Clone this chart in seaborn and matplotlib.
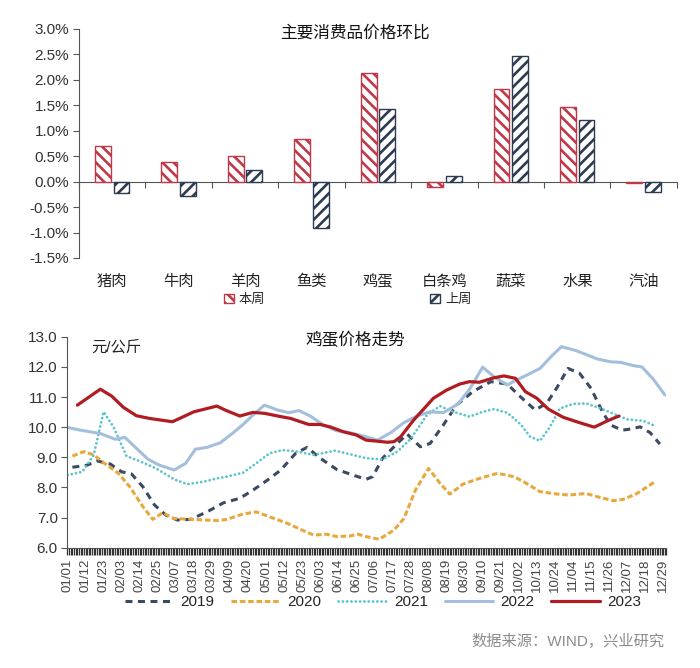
import numpy as np
import pandas as pd
import matplotlib
matplotlib.use('Agg')
import matplotlib.pyplot as plt
import seaborn as sns
from matplotlib.ticker import MultipleLocator, FixedLocator, FuncFormatter
from matplotlib import font_manager

sns.set_style('ticks')
plt.rcParams['font.family'] = ['Liberation Sans', 'Noto Sans CJK SC']
plt.rcParams['hatch.linewidth'] = 1.9
plt.rcParams['lines.scale_dashes'] = False

# ---------------- data: top chart ----------------
categories = ['猪肉', '牛肉', '羊肉', '鱼类', '鸡蛋', '白条鸡', '蔬菜', '水果', '汽油']
this_week = [0.70, 0.39, 0.51, 0.83, 2.14, -0.10, 1.82, 1.47, -0.02]
last_week = [-0.22, -0.28, 0.23, -0.92, 1.43, 0.12, 2.47, 1.21, -0.21]
week_labels = ['本周', '上周']

# ---------------- data: bottom chart (day of year, price) ----------------
x_labels = ['01/01', '01/12', '01/23', '02/03', '02/14', '02/25', '03/07', '03/18', '03/29',
            '04/09', '04/20', '05/01', '05/12', '05/23', '06/03', '06/14', '06/25', '07/06',
            '07/17', '07/28', '08/08', '08/19', '08/30', '09/10', '09/21', '10/02', '10/13',
            '10/24', '11/04', '11/15', '11/26', '12/07', '12/18', '12/29']

days_2019 = [3, 12, 18, 26, 33, 39, 46, 53, 60, 67, 75, 85, 95, 105, 113, 122, 130, 139, 146, 154,
             164, 174, 182, 186, 192, 201, 207, 215, 221, 229, 237, 247, 258, 268, 276, 285, 292,
             298, 305, 312, 319, 326, 331, 338, 342, 349, 355, 361]
vals_2019 = [8.67, 8.74, 8.88, 8.78, 8.52, 8.45, 8.02, 7.42, 7.08, 6.92, 6.94, 7.19, 7.49, 7.64,
             7.91, 8.25, 8.58, 9.13, 9.33, 8.97, 8.60, 8.41, 8.27, 8.36, 8.97, 9.46, 9.77, 9.35,
             9.46, 10.07, 10.73, 11.18, 11.51, 11.43, 11.01, 10.57, 10.79, 11.29, 11.95, 11.79,
             11.29, 10.51, 10.07, 9.90, 9.93, 10.01, 9.82, 9.44]

days_2020 = [3, 10, 16, 22, 31, 38, 46, 52, 58, 65, 77, 91, 97, 107, 115, 123, 134, 142, 150, 158,
             164, 172, 177, 182, 190, 199, 205, 212, 220, 227, 233, 241, 251, 262, 272, 278, 288,
             300, 306, 316, 325, 333, 339, 347, 358]
vals_2020 = [9.04, 9.19, 9.08, 8.82, 8.47, 8.02, 7.36, 6.94, 7.16, 6.97, 6.94, 6.90, 6.94, 7.12,
             7.19, 7.03, 6.81, 6.61, 6.42, 6.45, 6.37, 6.39, 6.45, 6.37, 6.28, 6.59, 6.97, 7.91,
             8.63, 8.14, 7.78, 8.11, 8.30, 8.47, 8.36, 8.19, 7.86, 7.77, 7.75, 7.80, 7.66, 7.56,
             7.61, 7.80, 8.19]

days_2021 = [0, 9, 16, 22, 28, 36, 45, 54, 65, 73, 83, 91, 97, 107, 115, 123, 131, 140, 150, 163,
             174, 182, 192, 201, 209, 219, 227, 235, 245, 253, 260, 268, 276, 282, 288, 294, 300,
             308, 316, 325, 333, 341, 351, 358]
vals_2021 = [8.41, 8.52, 9.08, 10.51, 10.01, 9.04, 8.85, 8.63, 8.27, 8.11, 8.19, 8.30, 8.36, 8.49,
             8.80, 9.13, 9.24, 9.19, 9.08, 9.22, 9.08, 8.97, 8.93, 9.19, 9.60, 10.40, 10.70, 10.51,
             10.35, 10.51, 10.60, 10.48, 10.10, 9.68, 9.55, 10.01, 10.62, 10.77, 10.79, 10.62,
             10.44, 10.26, 10.21, 10.04]

days_2022 = [0, 8, 20, 29, 35, 42, 49, 56, 65, 72, 78, 85, 93, 100, 107, 113, 120, 128, 135, 141,
             148, 156, 164, 172, 180, 189, 197, 205, 213, 221, 229, 238, 245, 253, 260, 268, 273,
             280, 288, 295, 301, 310, 323, 331, 337, 345, 350, 357, 364]
vals_2022 = [9.99, 9.90, 9.79, 9.60, 9.66, 9.30, 8.94, 8.74, 8.58, 8.80, 9.27, 9.33, 9.48, 9.77,
             10.09, 10.40, 10.73, 10.57, 10.48, 10.55, 10.37, 10.07, 9.88, 9.82, 9.71, 9.57, 9.82,
             10.15, 10.37, 10.51, 10.48, 10.77, 11.26, 11.99, 11.67, 11.40, 11.55, 11.73, 11.95,
             12.36, 12.67, 12.54, 12.26, 12.17, 12.15, 12.04, 12.00, 11.59, 11.07]

days_2023 = [6, 20, 27, 34, 42, 50, 64, 77, 91, 96, 105, 113, 120, 130, 136, 147, 154, 160, 168,
             176, 182, 186, 195, 199, 203, 211, 223, 231, 239, 245, 251, 260, 266, 273, 279, 286,
             293, 302, 312, 321, 329, 336]
vals_2023 = [10.73, 11.26, 11.03, 10.66, 10.38, 10.29, 10.18, 10.51, 10.70, 10.57, 10.37, 10.49,
             10.46, 10.35, 10.29, 10.09, 10.09, 10.01, 9.85, 9.74, 9.57, 9.55, 9.50, 9.52, 9.68,
             10.24, 10.96, 11.23, 11.43, 11.51, 11.49, 11.64, 11.70, 11.62, 11.18, 10.96, 10.60,
             10.33, 10.15, 10.00, 10.21, 10.37]

RED = '#c03848'
NAVY = '#2c3b50'
AXC = '#555555'
TXT = '#333333'

installed = {f.name for f in font_manager.fontManager.ttflist}
NARROW = ['Liberation Sans Narrow'] if 'Liberation Sans Narrow' in installed else []

fig = plt.figure(figsize=(7, 6.68), dpi=100)

# ================= top bar chart =================
ax1 = fig.add_axes([0.1129, 0.6138, 0.854, 0.3428])
df = pd.DataFrame({'cat': categories * 2,
                   'week': [week_labels[0]] * len(categories) + [week_labels[1]] * len(categories),
                   'val': this_week + last_week})
sns.barplot(data=df, x='cat', y='val', hue='week', hue_order=week_labels,
            palette={week_labels[0]: RED, week_labels[1]: NAVY}, fill=False,
            width=0.56, gap=0.15, linewidth=1.0, ax=ax1, legend=False, errorbar=None)
hatches = ['\\' * 3, '/' * 3]
for cont, h, c in zip(ax1.containers, hatches, [RED, NAVY]):
    for p in cont.patches:
        p.set_hatch(h)
        p.set_facecolor('white')
        p.set_edgecolor(c)

ax1.set_xlim(-0.5, 8.5)
ax1.set_ylim(-1.5, 3.0)
ax1.set_yticks(np.arange(-1.5, 3.01, 0.5))
ax1.yaxis.set_major_formatter(FuncFormatter(lambda v, p: f'{v:.1f}%'))
ax1.set_xlabel('')
ax1.set_ylabel('')
for s in ['top', 'right', 'bottom']:
    ax1.spines[s].set_visible(False)
ax1.spines['left'].set_color(AXC)
ax1.tick_params(axis='y', direction='out', length=4, color=AXC, labelsize=11, labelcolor=TXT, pad=3)
ax1.tick_params(axis='x', length=0, labelsize=11, labelcolor='#222222', pad=12)

sec = ax1.secondary_xaxis(1 / 3)
sec.set_xticks(np.arange(-0.5, 9, 1))
sec.tick_params(direction='out', length=4, color=AXC, labelbottom=False, labeltop=False)
sec.spines['bottom'].set_color(AXC)
sec.spines['top'].set_color(AXC)

ax1.text(0.462, 0.985, '主要消费品价格环比', transform=ax1.transAxes, ha='center', va='center',
         fontsize=12, color='#111111', fontweight='medium')

fig.legend(handles=list(ax1.containers), labels=week_labels, loc='center',
           bbox_to_anchor=(0.497, 0.551), ncol=2, frameon=False, columnspacing=12.5,
           handlelength=0.7, handleheight=0.7, handletextpad=0.4, fontsize=9.5)

# ================= bottom line chart =================
ax2 = fig.add_axes([0.0964, 0.180, 0.8557, 0.3159])
series = [
    ('2019', days_2019, vals_2019, '#3a4a63', 2.2, (0, (5, 4)), 'butt'),
    ('2020', days_2020, vals_2020, '#e8a83c', 2.2, (0, (4, 2)), 'butt'),
    ('2021', days_2021, vals_2021, '#5cc4cc', 2.0, (0, (0.1, 3.0)), 'round'),
    ('2022', days_2022, vals_2022, '#a3bfdc', 2.2, '-', 'butt'),
    ('2023', days_2023, vals_2023, '#b01c22', 2.3, '-', 'butt'),
]
handles = []
for name, d, v, c, lw, ls, cap in series:
    sns.lineplot(x=d, y=v, ax=ax2, color=c, linewidth=lw, sort=False, errorbar=None)
    ln = ax2.lines[-1]
    ln.set_linestyle(ls)
    ln.set_dash_capstyle(cap)
    handles.append(ln)

ax2.set_xlim(0, 365)
ax2.set_ylim(6, 13)
ax2.set_yticks(np.arange(6, 13.01, 1))
ax2.yaxis.set_major_formatter(FuncFormatter(lambda v, p: f'{v:.1f}'))
ax2.xaxis.set_major_locator(FixedLocator([i * 11 for i in range(len(x_labels))]))
ax2.set_xticklabels(x_labels, rotation=90)
ax2.xaxis.set_minor_locator(MultipleLocator(1))
for s in ['top', 'right']:
    ax2.spines[s].set_visible(False)
ax2.spines['left'].set_color(AXC)
ax2.spines['bottom'].set_color(AXC)
ax2.tick_params(axis='y', direction='out', length=4, color=AXC, labelsize=11, labelcolor=TXT, pad=3)
ax2.tick_params(axis='x', which='both', direction='out', length=5, width=0.9, color='#333333',
                labelsize=9.5, labelcolor='#444444', pad=3)
ax2.set_xlabel('')
ax2.set_ylabel('')

ax2.text(0.04, 0.951, '元/公斤', transform=ax2.transAxes, ha='left', va='center', fontsize=11,
         color='#222222')
ax2.text(0.48, 0.985, '鸡蛋价格走势', transform=ax2.transAxes, ha='center', va='center',
         fontsize=12, color='#111111', fontweight='medium')

leg_font = {'family': NARROW + ['Liberation Sans'], 'size': 12.5 if NARROW else 11}
fig.legend(handles=handles, labels=[s[0] for s in series], loc='center',
           bbox_to_anchor=(0.547, 0.099), ncol=5, frameon=False, handlelength=3.2,
           columnspacing=1.1, handletextpad=0.45, prop=leg_font)

fig.text(0.95, 0.0404, '数据来源：WIND，兴业研究', ha='right', va='center', fontsize=11,
         color='#8c8c8c')

fig.savefig('out.png', dpi=100, facecolor='white')
